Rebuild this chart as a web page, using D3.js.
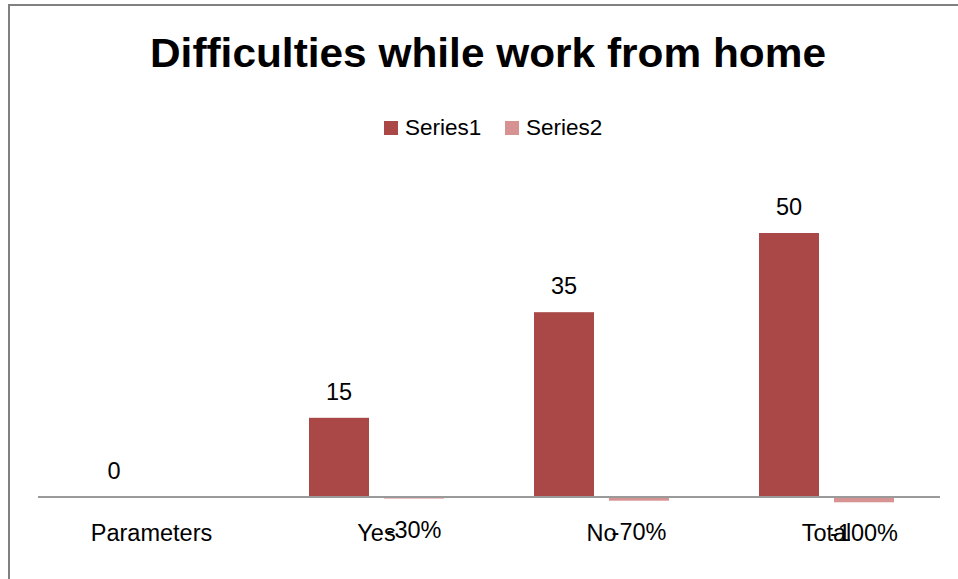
<!DOCTYPE html>
<html>
<head>
<meta charset="utf-8">
<script src="https://cdn.jsdelivr.net/npm/d3@7"></script>
<style>
  html, body { margin: 0; padding: 0; background: #fff; }
  svg { display: block; }
  text { font-family: "Liberation Sans", Arial, sans-serif; fill: #000; }
</style>
</head>
<body>
<script>
const categories = ["Parameters", "Yes", "No", "Total"];
const seriesNames = ["Series1", "Series2"];
const series1 = [0, 15, 35, 50];
const series2 = [null, -0.3, -0.7, -1.0];
const series2Labels = [null, "-30%", "-70%", "-100%"];
const colors = ["#A94846", "#D69391"];
const title = "Difficulties while work from home";

const W = 958, H = 579;
const svg = d3.select("body").append("svg").attr("width", W).attr("height", H);

// chart border
svg.append("rect").attr("x", 9).attr("y", 5).attr("width", 1200).attr("height", 1200)
  .attr("fill", "none").attr("stroke", "#808080").attr("stroke-width", 2);

// title
svg.append("text").attr("x", 488).attr("y", 67).attr("text-anchor", "middle")
  .attr("font-size", 40).attr("font-weight", "bold")
  .attr("textLength", 676).attr("lengthAdjust", "spacingAndGlyphs")
  .text(title);

const x0 = d3.scaleBand().domain(categories).range([39, 939]).padding(0);
const x1 = d3.scaleBand().domain(seriesNames).range([0, x0.bandwidth()])
  .paddingInner(0.2).paddingOuter(0.6);
const y = d3.scaleLinear().domain([0, 60]).range([497, 180.2]);

const data = categories.map((c, i) => ({
  cat: c,
  vals: [
    { s: "Series1", v: series1[i], label: series1[i] === null ? null : String(series1[i]), ci: 0 },
    { s: "Series2", v: series2[i], label: series2Labels[i], ci: 1 }
  ]
}));

const g = svg.append("g");
const groups = g.selectAll("g.cat").data(data).join("g")
  .attr("class", "cat")
  .attr("transform", d => `translate(${x0(d.cat)},0)`);

groups.selectAll("rect").data(d => d.vals.filter(v => v.v !== null)).join("rect")
  .attr("x", d => x1(d.s))
  .attr("width", x1.bandwidth())
  .attr("y", d => Math.min(y(d.v), y(0)))
  .attr("height", d => Math.abs(y(d.v) - y(0)))
  .attr("fill", d => colors[d.ci]);

// axis
const axis = d3.axisBottom(x0).tickSize(0).tickPadding(27);
const ax = svg.append("g").attr("transform", `translate(0,${y(0)})`).call(axis);
ax.select(".domain").attr("stroke", "#9a9a9a").attr("stroke-width", 2)
  .attr("d", `M${x0.range()[0] - 1},0H${x0.range()[1] + 1}`);
ax.selectAll(".tick text").attr("font-size", 23.5).attr("fill", "#000")
  .attr("font-family", "'Liberation Sans', Arial, sans-serif");

// data labels
groups.selectAll("text.lbl").data(d => d.vals.filter(v => v.label !== null)).join("text")
  .attr("class", "lbl")
  .attr("x", d => x1(d.s) + x1.bandwidth() / 2)
  .attr("y", d => d.v >= 0 ? y(d.v) - 18 : y(d.v) + 39)
  .attr("text-anchor", "middle")
  .attr("font-size", 23.5)
  .text(d => d.label);

// legend
const legendX = [384, 505];
const lg = svg.append("g");
seriesNames.forEach((s, i) => {
  lg.append("rect").attr("x", legendX[i]).attr("y", 121).attr("width", 14).attr("height", 14)
    .attr("fill", colors[i]);
  lg.append("text").attr("x", legendX[i] + 21).attr("y", 135).attr("font-size", 22.5).text(s);
});
</script>
</body>
</html>
